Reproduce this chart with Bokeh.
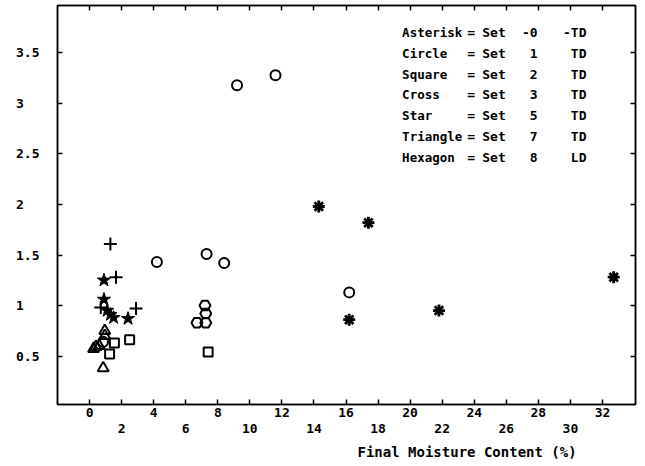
from bokeh.plotting import figure
from bokeh.models import LinearAxis, FixedTicker, Range1d, Title, ColumnDataSource
from bokeh.core.properties import value
from bokeh.embed import file_html
from bokeh.resources import INLINE

# ---------------- data ----------------
set0_x = [14.3, 17.4, 16.2, 21.8, 32.7]
set0_y = [1.98, 1.82, 0.86, 0.95, 1.28]

set1_x = [9.2, 11.6, 7.3, 8.4, 4.2, 16.2, 0.85]
set1_y = [3.18, 3.28, 1.51, 1.42, 1.43, 1.13, 0.64]

set2_x = [7.4, 1.25, 1.55, 2.5]
set2_y = [0.54, 0.52, 0.63, 0.66]

set3_x = [1.3, 1.65, 2.9, 0.7]
set3_y = [1.61, 1.28, 0.97, 0.98]

set5_x = [0.9, 0.9, 1.1, 1.3, 1.5, 2.4]
set5_y = [1.25, 1.06, 0.95, 0.91, 0.88, 0.87]

set7_x = [0.95, 0.95, 0.6, 0.4, 0.25, 0.85]
set7_y = [0.75, 0.70, 0.60, 0.59, 0.57, 0.38]

set8_x = [7.2, 7.25, 6.7, 7.25]
set8_y = [1.0, 0.92, 0.83, 0.83]

x_ticks_row1 = [0, 4, 8, 12, 16, 20, 24, 28, 32]
x_ticks_row2 = [2, 6, 10, 14, 18, 22, 26, 30]
y_ticks = [0.5, 1, 1.5, 2, 2.5, 3, 3.5]
y_tick_labels = ["0.5", "1", "1.5", "2", "2.5", "3", "3.5"]

legend_names = ["Asterisk", "Circle", "Square", "Cross", "Star", "Triangle", "Hexagon"]
legend_sets = ["-0", "1", "2", "3", "5", "7", "8"]
legend_types = ["-TD", "TD", "TD", "TD", "TD", "TD", "LD"]

x_title = "Final Moisture Content (%)"

# ---------------- figure ----------------
FONT = "DejaVu Sans Mono"
FS = "13px"

p = figure(width=640, height=465, x_range=Range1d(-2, 34.06), y_range=Range1d(0.02, 3.97),
           output_backend="svg", toolbar_location=None,
           min_border_left=57, min_border_right=5, min_border_top=5, min_border_bottom=0)
p.xgrid.visible = False
p.ygrid.visible = False
p.outline_line_color = "black"
p.outline_line_width = 1.5
p.background_fill_color = "white"
p.border_fill_color = "white"

all_x_ticks = sorted(x_ticks_row1 + x_ticks_row2)


def style_axis(ax):
    ax.axis_line_color = "black"
    ax.axis_line_width = 1.5
    ax.major_tick_line_color = "black"
    ax.major_tick_line_width = 1.5
    ax.minor_tick_line_color = "black"
    ax.minor_tick_line_width = 1.5
    ax.major_tick_in = 5
    ax.major_tick_out = 0
    ax.minor_tick_in = 5
    ax.minor_tick_out = 0
    ax.major_label_text_font = FONT
    ax.major_label_text_font_size = FS
    ax.major_label_text_font_style = "bold"
    ax.major_label_text_color = "black"


# bottom axis, first row of labels
xa = p.xaxis[0]
xa.ticker = FixedTicker(ticks=x_ticks_row1, minor_ticks=x_ticks_row2)
style_axis(xa)
xa.major_label_standoff = 3

# bottom axis, second row of labels
xb = LinearAxis(ticker=FixedTicker(ticks=x_ticks_row2, minor_ticks=[]))
style_axis(xb)
xb.axis_line_color = None
xb.major_tick_line_color = None
xb.minor_tick_line_color = None
xb.major_tick_in = 0
xb.minor_tick_in = 0
xb.major_label_standoff = 4
p.add_layout(xb, "below")

# left axis (labels visually left-aligned, as in the original)
width_chars = max(len(s) for s in y_tick_labels)
ya = p.yaxis[0]
ya.ticker = FixedTicker(ticks=y_ticks, minor_ticks=[])
style_axis(ya)
ya.major_label_standoff = 18
ya.major_label_overrides = {t: l + "\u00a0" * (width_chars - len(l))
                            for t, l in zip(y_ticks, y_tick_labels)}

# top and right axes (ticks only, labels blank)
xt = LinearAxis(ticker=FixedTicker(ticks=all_x_ticks, minor_ticks=[]))
style_axis(xt)
xt.major_label_overrides = {t: "" for t in all_x_ticks}
xt.major_label_text_font_size = "1px"
xt.major_label_standoff = 0
p.add_layout(xt, "above")

yr = LinearAxis(ticker=FixedTicker(ticks=y_ticks, minor_ticks=[]))
style_axis(yr)
yr.major_label_overrides = {t: "" for t in y_ticks}
yr.major_label_text_font_size = "1px"
yr.major_label_standoff = 0
p.add_layout(yr, "right")

# x-axis title (offset to the right as in the original)
t = Title(text=x_title, align="left", offset=300, standoff=12,
          text_font=FONT, text_font_size="14px", text_font_style="bold", text_color="black")
p.add_layout(t, "below")

# ---------------- markers ----------------
p.scatter(set0_x, set0_y, marker="asterisk", size=12, line_color="black", line_width=2.8)
p.scatter(set1_x, set1_y, marker="circle", size=10, line_color="black", line_width=2, fill_color=None)
p.scatter(set2_x, set2_y, marker="square", size=9, line_color="black", line_width=2, fill_color=None)
p.scatter(set3_x, set3_y, marker="cross", size=13, line_color="black", line_width=2)
p.scatter(set5_x, set5_y, marker="star", size=14, line_color="black", fill_color="black")
p.scatter(set7_x, set7_y, marker="triangle", size=11, line_color="black", line_width=2, fill_color=None)
p.scatter(set8_x, set8_y, marker="hex", size=11, line_color="black", line_width=2, fill_color=None)

# ---------------- legend text ----------------
n = len(legend_names)
leg_y = [3.70 - i * 0.205 for i in range(n)]
src = ColumnDataSource(dict(
    y=leg_y, name=legend_names, eq=["="] * n, set_=["Set"] * n,
    sid=legend_sets, typ=legend_types))
common = dict(text_font=value(FONT), text_font_style="bold",
              text_color="black", text_baseline="middle")
p.text(x=19.5, y="y", text="name", source=src, text_align="left",
       text_font_size=value("12.5px"), **common)
p.text(x=23.8, y="y", text="eq", source=src, text_align="center",
       text_font_size=value(FS), **common)
p.text(x=24.5, y="y", text="set_", source=src, text_align="left",
       text_font_size=value(FS), **common)
p.text(x=27.95, y="y", text="sid", source=src, text_align="right",
       text_font_size=value(FS), **common)
p.text(x=31.0, y="y", text="typ", source=src, text_align="right",
       text_font_size=value(FS), **common)

open("out.html", "w").write(file_html(p, INLINE))
